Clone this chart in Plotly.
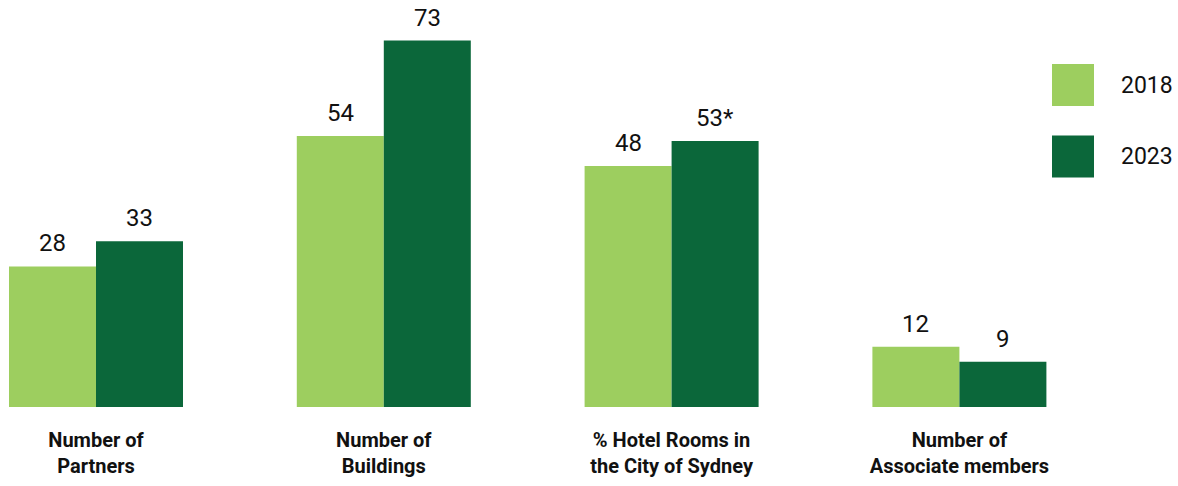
import plotly.graph_objects as go

categories = ["Number of<br>Partners", "Number of<br>Buildings",
              "% Hotel Rooms in<br>the City of Sydney", "Number of<br>Associate members"]
series_names = ["2018", "2023"]
values_2018 = [28, 54, 48, 12]
values_2023 = [33, 73, 53, 9]
labels_2018 = ["28", "54", "48", "12"]
labels_2023 = ["33", "73", "53*", "9"]

colors = {"2018": "#9DCE5F", "2023": "#0B673A"}
FONT = "Roboto, sans-serif"

W, H = 1178, 486
plot_h = 407
px_per_cat = 287.8
first_center = 96
x_range = [-first_center / px_per_cat, (W - first_center) / px_per_cat]
y_top = plot_h / 5.02
bar_px = 87

tick_text = ["<b>" + c + "</b>" for c in categories]

fig = go.Figure()
fig.add_trace(go.Bar(x=list(range(len(categories))), y=values_2018, name="2018",
                     marker_color=colors["2018"], marker_line_width=0))
fig.add_trace(go.Bar(x=list(range(len(categories))), y=values_2023, name="2023",
                     marker_color=colors["2023"], marker_line_width=0))

annotations = []
for i in range(len(categories)):
    for vals, labs, shift in ((values_2018, labels_2018, -bar_px / 2), (values_2023, labels_2023, bar_px / 2)):
        annotations.append(dict(x=i, y=vals[i], xref="x", yref="y", text=labs[i],
                                showarrow=False, xshift=shift, yanchor="bottom", yshift=7,
                                font=dict(family=FONT, size=24, color="#111111")))

# legend
for k, name in enumerate(series_names):
    top = 64 + k * 71.5
    bot = top + 42
    fig.add_shape(type="rect", xref="paper", yref="paper",
                  x0=1052 / W, x1=1094 / W,
                  y0=(plot_h - bot) / plot_h, y1=(plot_h - top) / plot_h,
                  fillcolor=colors[name], line_width=0)
    annotations.append(dict(x=1147 / W, y=(plot_h - (top + 21)) / plot_h, xref="paper", yref="paper",
                            text=name, showarrow=False, xanchor="center", yanchor="middle",
                            font=dict(family=FONT, size=23, color="#111111")))

fig.update_layout(
    width=W, height=H,
    margin=dict(l=0, r=0, t=0, b=H - plot_h),
    barmode="group", bargap=1 - 2 * bar_px / px_per_cat, bargroupgap=0,
    plot_bgcolor="white", paper_bgcolor="white",
    showlegend=False,
    annotations=annotations,
    xaxis=dict(range=x_range, tickmode="array", tickvals=list(range(len(categories))),
               ticktext=tick_text, showgrid=False, zeroline=False, showline=False,
               ticks="", ticklabelstandoff=19,
               tickfont=dict(family=FONT, size=20, color="#111111")),
    yaxis=dict(range=[0, y_top], visible=False, showgrid=False, zeroline=False),
)

fig.write_html("out.html")
